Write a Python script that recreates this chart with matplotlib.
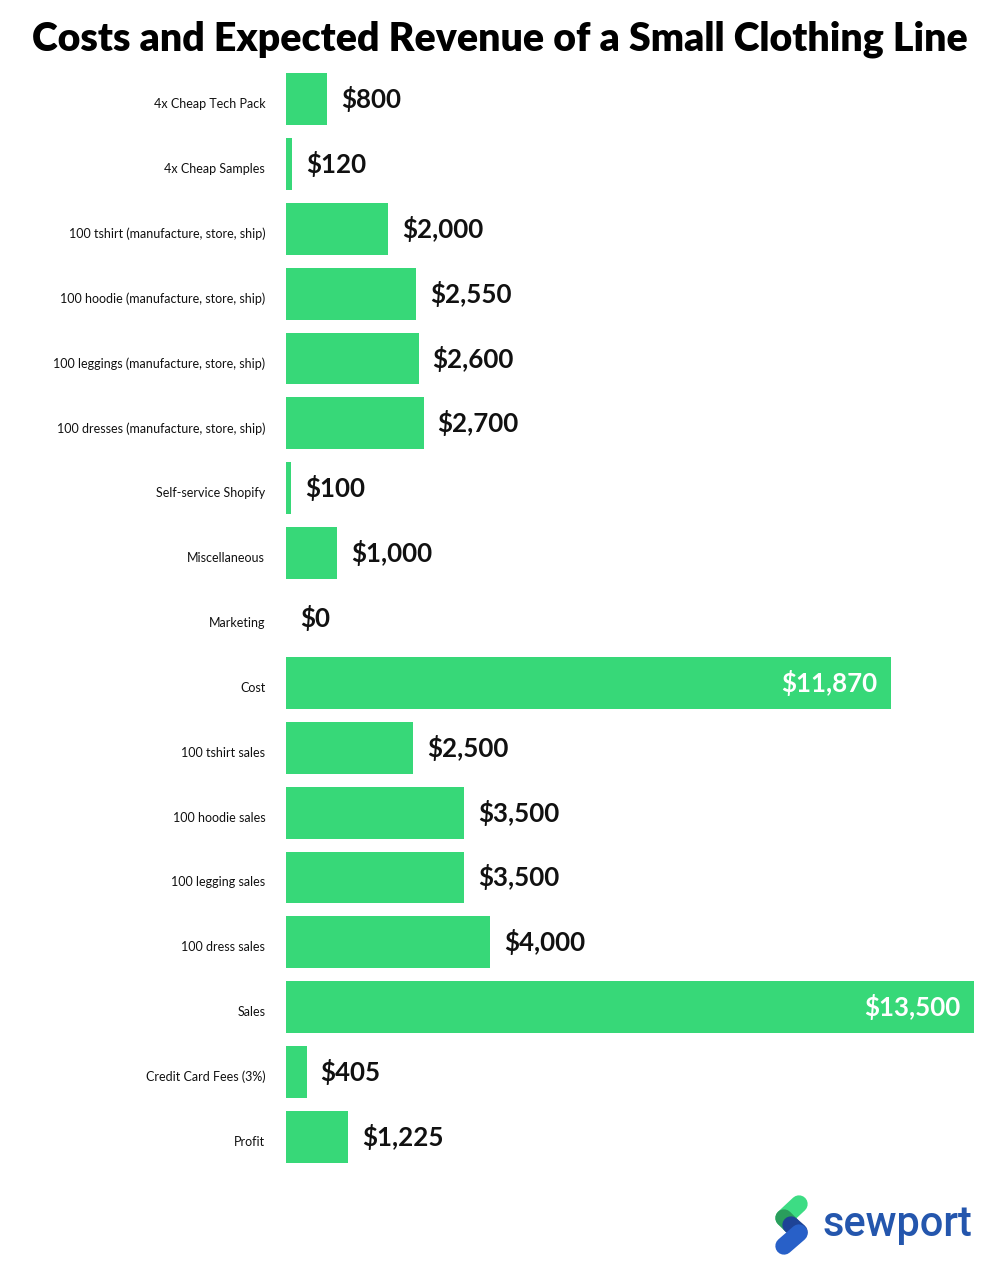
import matplotlib
matplotlib.use("Agg")
import matplotlib.pyplot as plt
import matplotlib.transforms as mtransforms

# -------------------------
# DATA
# -------------------------
categories = [
    "4x Cheap Tech Pack",
    "4x Cheap Samples",
    "100 tshirt (manufacture, store, ship)",
    "100 hoodie (manufacture, store, ship)",
    "100 leggings (manufacture, store, ship)",
    "100 dresses (manufacture, store, ship)",
    "Self-service Shopify",
    "Miscellaneous",
    "Marketing",
    "Cost",
    "100 tshirt sales",
    "100 hoodie sales",
    "100 legging sales",
    "100 dress sales",
    "Sales",
    "Credit Card Fees (3%)",
    "Profit",
]
values = [800, 120, 2000, 2550, 2600, 2700, 100, 1000, 0,
          11870, 2500, 3500, 3500, 4000, 13500, 405, 1225]
inside_labels = ["Cost", "Sales"]

TITLE = "Costs and Expected Revenue of a Small Clothing Line"
BAR_COLOR = "#37d878"
FONT = "Lato"

# -------------------------
# FIGURE
# -------------------------
W, H = 1000, 1281
fig = plt.figure(figsize=(W / 100, H / 100), dpi=100)
fig.patch.set_facecolor("white")

ax = fig.add_axes([286 / W, 1 - 1169.4 / H, 688 / W, (1169.4 - 66.6) / H])
ypos = list(range(len(categories)))
ax.barh(ypos, values, height=0.8, color=BAR_COLOR)
ax.set_xlim(0, 13500)
ax.set_ylim(len(categories) - 0.5, -0.5)
ax.set_yticks(ypos)
ax.set_yticklabels(categories, fontsize=9, family=FONT, color="#111111")
ax.tick_params(axis="y", length=0, pad=15)
ax.set_xticks([])
for s in ax.spines.values():
    s.set_visible(False)

# labels sit a few pixels below the bar centre in the original
shift = mtransforms.ScaledTranslation(0, -4 / 100, fig.dpi_scale_trans)
for t in ax.get_yticklabels():
    t.set_transform(t.get_transform() + shift)

for y, (cat, v) in enumerate(zip(categories, values)):
    label = f"${v:,}"
    if cat in inside_labels:
        ax.annotate(label, (v, y), xytext=(-10, 0), textcoords="offset points",
                    ha="right", va="center", fontsize=18.6, fontweight="bold",
                    family=FONT, color="white")
    else:
        ax.annotate(label, (v, y), xytext=(10, 0), textcoords="offset points",
                    ha="left", va="center", fontsize=18.6, fontweight="bold",
                    family=FONT, color="#111111")

# -------------------------
# TITLE (fit to width)
# -------------------------
title = fig.text(0.5, 1 - 39 / H, TITLE, ha="center", va="center",
                 fontsize=28, fontweight="heavy", family=FONT, color="black")
fig.canvas.draw()
r = fig.canvas.get_renderer()
tw = title.get_window_extent(r).width
title.set_fontsize(28 * 934 / tw)

# -------------------------
# LOGO
# -------------------------
def capsule(p0, p1, color):
    fig.add_artist(plt.Line2D([p0[0] / W, p1[0] / W], [1 - p0[1] / H, 1 - p1[1] / H],
                              transform=fig.transFigure, color=color, lw=12.5,
                              solid_capstyle="round"))

capsule((799, 1204), (784, 1218), "#3ddc84")
capsule((784, 1218), (791, 1225), "#2a9d5c")
capsule((791, 1225), (799, 1232), "#1e4396")
capsule((799, 1233), (784, 1246), "#2860c8")

brand = fig.text(822 / W, 1 - 1236 / H, "sewport", ha="left", va="baseline",
                 fontsize=24, fontweight="medium", family="Roboto", color="#2456ad")
fig.canvas.draw()
bw = brand.get_window_extent(fig.canvas.get_renderer()).width
brand.set_fontsize(24 * 150 / bw)

fig.savefig("out.png", dpi=100, facecolor="white")
